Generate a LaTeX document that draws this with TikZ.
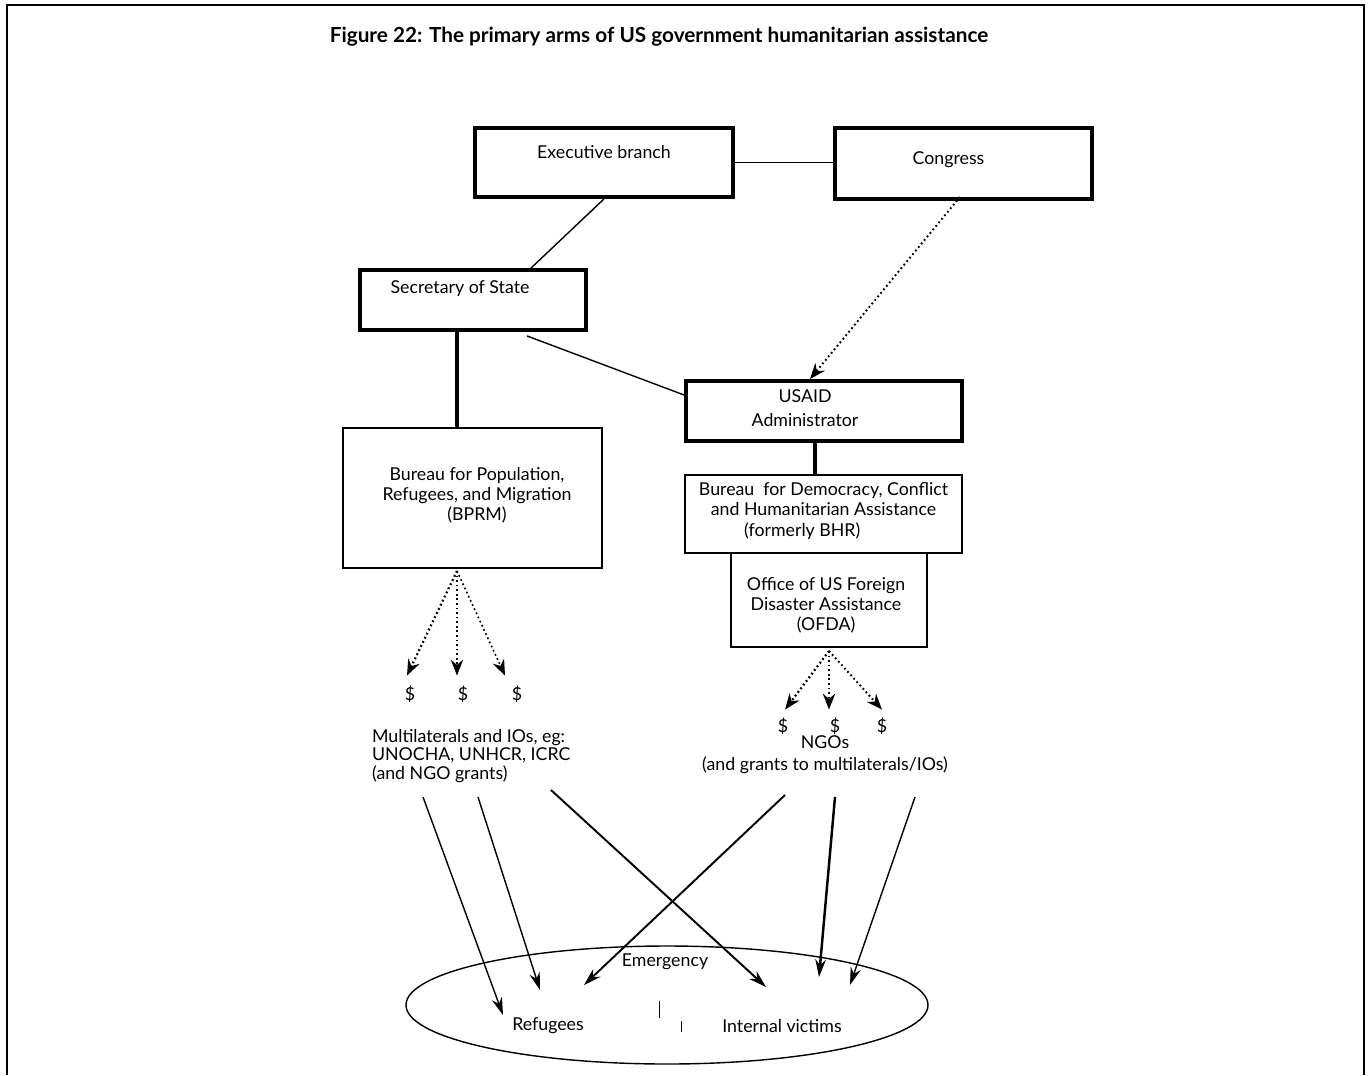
\documentclass[tikz,border=0pt]{standalone}
\usepackage{fontspec}
\setmainfont{Lato}
\usepackage{tikz}
\usetikzlibrary{arrows.meta,shapes.geometric}
\usetikzlibrary{calc}
\tikzstyle{orgbox}=[rectangle, draw, line width=2.2pt, inner sep=0pt]
\tikzstyle{subbox}=[rectangle, draw, line width=1.1pt, inner sep=0pt]
\tikzstyle{lbl}=[font=\fontsize{10.1}{11.4}\selectfont, align=center, inner sep=1pt]
\tikzstyle{link}=[line width=0.8pt]
\tikzstyle{stem}=[line width=2pt]
\tikzstyle{fund}=[-{Stealth[length=9pt,width=7pt]}, line width=1.3pt, dash pattern=on 1pt off 1.6pt]
\tikzstyle{flow}=[-{Stealth[length=10pt,width=6pt]}, line width=0.8pt]

\begin{document}
\begin{tikzpicture}
\useasboundingbox (0,0) rectangle (27.4,-21.5);
\draw[line width=1.1pt] (0.14,-21.5) -- (0.14,-0.1) -- (27.28,-0.1) -- (27.28,-21.5);
\node[font=\bfseries\fontsize{11.8}{14}\selectfont] (title) at (13.18,-0.74)
  {Figure 22: The primary arms of US government humanitarian assistance};

% top of the tree
\node[orgbox, minimum width=5.16cm, minimum height=1.38cm,
  label={[lbl,yshift=0.21cm]center:Executive branch}] (exec) at (12.08,-3.25) {};
\node[orgbox, minimum width=5.14cm, minimum height=1.42cm,
  label={[lbl,xshift=-0.3cm,yshift=0.07cm]center:Congress}] (congress) at (19.27,-3.27) {};
\node[orgbox, minimum width=4.52cm, minimum height=1.2cm,
  label={[lbl,xshift=-0.26cm,yshift=0.22cm]center:Secretary of State}] (sec) at (9.46,-6.0) {};
\node[orgbox, minimum width=5.52cm, minimum height=1.2cm,
  label={[lbl,xshift=-0.38cm,yshift=0.06cm]center:USAID\\[2pt]Administrator}] (usaid) at (16.48,-8.22) {};

% bureaus
\node[subbox, minimum width=5.18cm, minimum height=2.8cm,
  label={[lbl,xshift=0.09cm,yshift=0.06cm]center:Bureau for Population,\\Refugees, and Migration\\(BPRM)}] (bprm) at (9.45,-9.96) {};
\node[subbox, minimum width=5.54cm, minimum height=1.56cm,
  label={[lbl,yshift=0.06cm]center:Bureau\ \ for Democracy, Conflict\\and Humanitarian Assistance\\(formerly BHR)\hspace*{0.85cm}}] (bdcha) at (16.47,-10.28) {};
\node[subbox, minimum width=3.92cm, minimum height=1.88cm,
  label={[lbl,xshift=-0.06cm,yshift=-0.1cm]center:Office of US Foreign\\Disaster Assistance\\(OFDA)}] (ofda) at (16.58,-12.0) {};

\draw[link] (exec.east) -- (congress.west |- exec.east);
\draw[link] (exec.south) -- ($(sec.north)+(1.16,0)$);
\draw[fund, line width=1.1pt] ($(congress.south)+(-0.07,0.08)$) -- ($(usaid.north)+(-0.28,0)$);
\draw[link] ($(sec.south)+(1.08,-0.08)$) -- ($(usaid.west)+(0,0.32)$);
\draw[stem] ($(sec.south)+(-0.32,0)$) -- ($(bprm.north)+(-0.31,0)$);
\draw[stem] ($(usaid.south)+(-0.18,0)$) -- ($(bdcha.north)+(-0.17,0)$);

% money
\node[lbl] (d1) at (8.2,-13.88) {\$};
\node[lbl] (d2) at (9.26,-13.88) {\$};
\node[lbl] (d3) at (10.34,-13.88) {\$};
\node[lbl] (e1) at (15.66,-14.52) {\$};
\node[lbl] (e2) at (16.7,-14.52) {\$};
\node[lbl] (e3) at (17.64,-14.52) {\$};
\draw[fund] ($(bprm.south)+(-0.31,-0.04)$) -- ($(d1.north)+(-0.06,0.16)$);
\draw[fund] ($(bprm.south)+(-0.31,-0.04)$) -- ($(d2.north)+(-0.12,0.16)$);
\draw[fund, line width=0.9pt] ($(bprm.south)+(-0.31,-0.04)$) -- ($(d3.north)+(-0.24,0.16)$);
\draw[fund] ($(ofda.south)+(0,-0.06)$) -- ($(e1.north)+(0.04,0.12)$);
\draw[fund] ($(ofda.south)+(0,-0.06)$) -- ($(e2.north)+(-0.12,0.12)$);
\draw[fund, line width=1.1pt] ($(ofda.south)+(0,-0.06)$) -- ($(e3.north)+(0,0.12)$);

\node[lbl, align=left, anchor=west] (multi) at (7.4,-15.12)
  {Multilaterals and IOs, eg:\\[-1pt]UNOCHA, UNHCR, ICRC\\[-1pt](and NGO grants)};
\node[lbl] (ngo) at (16.5,-15.1) {NGOs\\[1pt](and grants to multilaterals/IOs)};

% the emergency
\node[ellipse, draw, line width=0.8pt, minimum width=10.44cm, minimum height=2.36cm,
  inner sep=0pt] (emerg) at (13.34,-20.1) {};
\node[lbl] (emlbl) at (13.3,-19.24) {Emergency};
\node[lbl] (refug) at (10.96,-20.52) {Refugees};
\node[lbl] (idp) at (15.64,-20.52) {Internal victims};
\draw[line width=0.5pt] (13.18,-20.02) -- (13.18,-20.36);
\draw[line width=0.5pt] (13.62,-20.42) -- (13.62,-20.64);

\coordinate (m1) at (8.46,-15.94);
\coordinate (m2) at (9.56,-15.94);
\coordinate (m3) at (11.02,-15.8);
\coordinate (n1) at (15.7,-15.9);
\coordinate (n2) at (16.7,-15.94);
\coordinate (n3) at (18.3,-15.94);
\coordinate (r1) at (10.06,-20.3);
\coordinate (r2) at (10.8,-19.8);
\coordinate (r3) at (11.68,-19.7);
\coordinate (v1) at (15.32,-19.74);
\coordinate (v2) at (16.38,-19.54);
\coordinate (v3) at (17.0,-19.7);
\draw[flow] (m1) -- (r1);
\draw[flow] (m2) -- (r2);
\draw[flow, line width=1.1pt] (m3) -- (v1);
\draw[flow, line width=1.1pt] (n1) -- (r3);
\draw[flow, line width=1.4pt] (n2) -- (v2);
\draw[flow] (n3) -- (v3);
\end{tikzpicture}
\end{document}
